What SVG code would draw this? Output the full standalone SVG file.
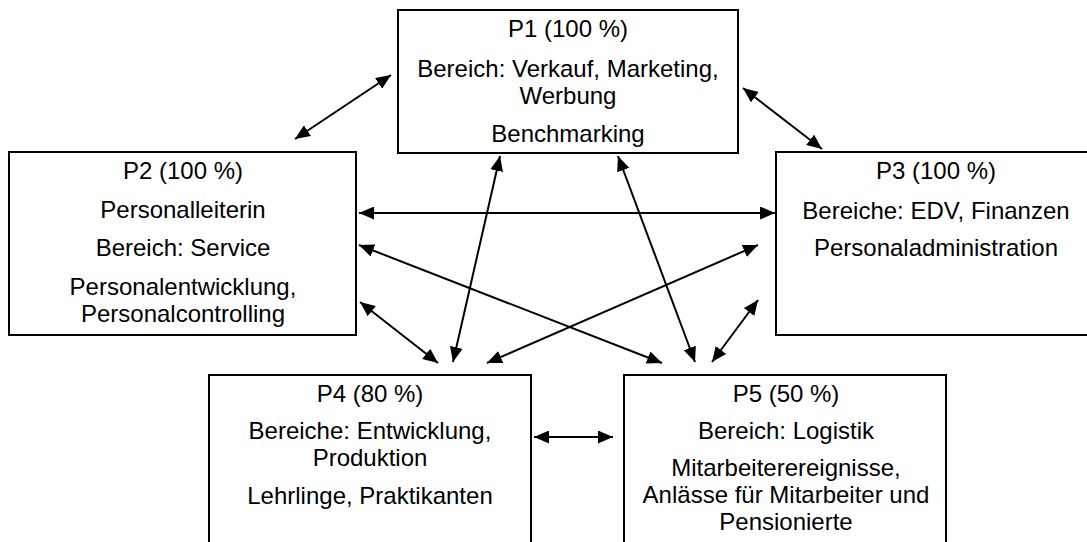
<svg xmlns="http://www.w3.org/2000/svg" width="1087" height="542" viewBox="0 0 1087 542">
  <style>
    .box { fill: #ffffff; stroke: #000000; stroke-width: 2; }
    .lbl { font-family: "Liberation Sans", Arial, sans-serif; font-size: 24px; fill: #000000; text-anchor: middle; }
    .link { stroke: #000000; stroke-width: 2; fill: none; marker-start: url(#head); marker-end: url(#head); }
  </style>
  <defs>
    <marker id="head" markerUnits="userSpaceOnUse" markerWidth="15" markerHeight="13" refX="15" refY="6.5" orient="auto-start-reverse" viewBox="0 0 15 13">
      <path d="M0,0 L15,6.5 L0,13 Z" fill="#000000"/>
    </marker>
  </defs>
  <rect width="1087" height="542" fill="#ffffff"/>

  <g id="P1">
    <rect class="box" x="398" y="10" width="340" height="143"/>
    <text class="lbl" x="568" y="37">P1 (100 %)</text>
    <text class="lbl" x="568" y="77">Bereich: Verkauf, Marketing,</text>
    <text class="lbl" x="568" y="104">Werbung</text>
    <text class="lbl" x="568" y="142">Benchmarking</text>
  </g>

  <g id="P2">
    <rect class="box" x="9" y="152" width="347" height="183"/>
    <text class="lbl" x="183" y="179">P2 (100 %)</text>
    <text class="lbl" x="183" y="218">Personalleiterin</text>
    <text class="lbl" x="183" y="256">Bereich: Service</text>
    <text class="lbl" x="183" y="295">Personalentwicklung,</text>
    <text class="lbl" x="183" y="322">Personalcontrolling</text>
  </g>

  <g id="P3">
    <rect class="box" x="776" y="152" width="320" height="183"/>
    <text class="lbl" x="936" y="179">P3 (100 %)</text>
    <text class="lbl" x="936" y="219">Bereiche: EDV, Finanzen</text>
    <text class="lbl" x="936" y="256">Personaladministration</text>
  </g>

  <g id="P4">
    <rect class="box" x="209" y="375" width="322" height="180"/>
    <text class="lbl" x="370" y="402">P4 (80 %)</text>
    <text class="lbl" x="370" y="439">Bereiche: Entwicklung,</text>
    <text class="lbl" x="370" y="466">Produktion</text>
    <text class="lbl" x="370" y="504">Lehrlinge, Praktikanten</text>
  </g>

  <g id="P5">
    <rect class="box" x="624" y="375" width="322" height="180"/>
    <text class="lbl" x="786" y="402">P5 (50 %)</text>
    <text class="lbl" x="786" y="439">Bereich: Logistik</text>
    <text class="lbl" x="786" y="476">Mitarbeiterereignisse,</text>
    <text class="lbl" x="786" y="503">Anlässe für Mitarbeiter und</text>
    <text class="lbl" x="786" y="530">Pensionierte</text>
  </g>

  <!-- two-way links between the positions -->
  <g id="connectors">
    <line class="link" x1="391" y1="75" x2="295" y2="139"/>
    <line class="link" x1="743" y1="88" x2="822" y2="149"/>
    <line class="link" x1="359" y1="213" x2="775" y2="213"/>
    <line class="link" x1="359" y1="245" x2="662" y2="363"/>
    <line class="link" x1="758" y1="245" x2="487" y2="363"/>
    <line class="link" x1="500" y1="156" x2="453" y2="362"/>
    <line class="link" x1="618" y1="156" x2="695" y2="362"/>
    <line class="link" x1="360" y1="302" x2="438" y2="363"/>
    <line class="link" x1="758" y1="300" x2="712" y2="362"/>
    <line class="link" x1="534" y1="437" x2="613" y2="437"/>
  </g>
</svg>
